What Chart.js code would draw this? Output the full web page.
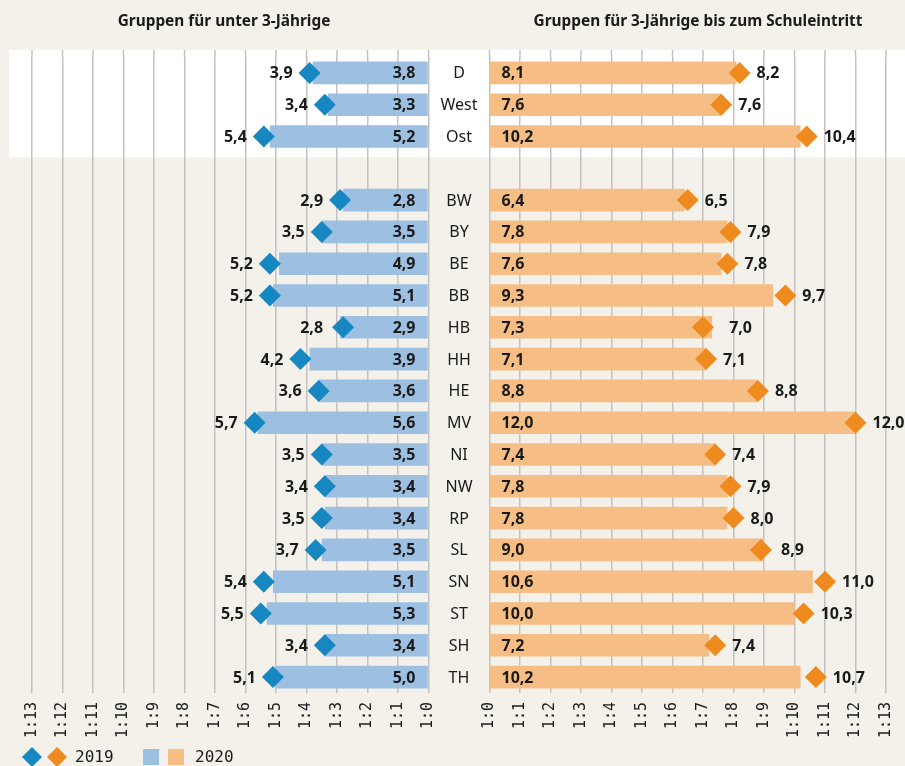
<!DOCTYPE html>
<html lang="de">
<head>
<meta charset="utf-8">
<script src="https://cdn.jsdelivr.net/npm/chart.js@4.4.1/dist/chart.umd.min.js"></script>
<style>
  html, body { margin: 0; padding: 0; background: #f3f1ea; }
  #wrap { position: relative; width: 905px; height: 766px; }
</style>
</head>
<body>
<div id="wrap"><canvas id="myChart"></canvas></div>
<script>
// Daten
let laender = ['D', 'West', 'Ost', '', 'BW', 'BY', 'BE', 'BB', 'HB', 'HH', 'HE', 'MV', 'NI', 'NW', 'RP', 'SL', 'SN', 'ST', 'SH', 'TH'];
let unter3_2020 = [3.8, 3.3, 5.2, null, 2.8, 3.5, 4.9, 5.1, 2.9, 3.9, 3.6, 5.6, 3.5, 3.4, 3.4, 3.5, 5.1, 5.3, 3.4, 5.0];
let unter3_2019 = [3.9, 3.4, 5.4, null, 2.9, 3.5, 5.2, 5.2, 2.8, 4.2, 3.6, 5.7, 3.5, 3.4, 3.5, 3.7, 5.4, 5.5, 3.4, 5.1];
let ueber3_2020 = [8.1, 7.6, 10.2, null, 6.4, 7.8, 7.6, 9.3, 7.3, 7.1, 8.8, 12.0, 7.4, 7.8, 7.8, 9.0, 10.6, 10.0, 7.2, 10.2];
let ueber3_2019 = [8.2, 7.6, 10.4, null, 6.5, 7.9, 7.8, 9.7, 7.0, 7.1, 8.8, 12.0, 7.4, 7.9, 8.0, 8.9, 11.0, 10.3, 7.4, 10.7];
let titel = ['Gruppen für unter 3-Jährige', 'Gruppen für 3-Jährige bis zum Schuleintritt'];
let jahre = ['2019', '2020'];

// Achse: links 1:13 ... 1:0, Luecke fuer die Laendernamen, rechts 1:0 ... 1:13
let maxSchluessel = 13;
let luecke = 2;

const blauBalken = '#9dbfe1';
const orangeBalken = '#f6be84';
const blauRaute = '#1787c1';
const orangeRaute = '#ef8a1f';
const textFarbe = '#1a1a1a';

const fmt = v => v.toFixed(1).replace('.', ',');

// Texte, Band und Legende
const zeichnen = {
  id: 'zeichnen',
  beforeDraw(chart) {
    const { ctx, chartArea, scales: { x, y } } = chart;
    ctx.save();
    ctx.fillStyle = '#f3f1ea';
    ctx.fillRect(0, 0, chart.width, chart.height);
    const oben = chartArea.top - 7;
    const unten = (y.getPixelForValue(2) + y.getPixelForValue(3)) / 2 + 5;
    ctx.fillStyle = '#ffffff';
    ctx.fillRect(9, oben, chart.width - 9, unten - oben);
    // Gitterlinien etwas nach oben verlaengern
    ctx.strokeStyle = '#c2c2c2';
    ctx.lineWidth = 1.5;
    x.ticks.forEach(t => {
      if (t.value === luecke / 2) return;
      const px = x.getPixelForValue(t.value);
      ctx.beginPath();
      ctx.moveTo(px, oben);
      ctx.lineTo(px, chartArea.top);
      ctx.stroke();
    });
    // Ueberschriften
    ctx.fillStyle = textFarbe;
    ctx.font = 'bold 15.4px "Noto Sans"';
    ctx.textAlign = 'center';
    ctx.textBaseline = 'middle';
    ctx.fillText(titel[0], 224, 22);
    ctx.fillText(titel[1], 698, 22);
    ctx.restore();
  },
  afterDatasetsDraw(chart) {
    const { ctx, scales: { x, y } } = chart;
    ctx.save();
    ctx.fillStyle = textFarbe;
    ctx.textBaseline = 'middle';
    laender.forEach((land, i) => {
      if (unter3_2020[i] == null) return;
      const py = y.getPixelForValue(i) + 1;
      ctx.font = '16px "Noto Sans"';
      ctx.textAlign = 'center';
      ctx.fillText(land, x.getPixelForValue(luecke / 2), py);

      ctx.font = 'bold 16px "Noto Sans"';
      // links
      ctx.textAlign = 'right';
      ctx.fillText(fmt(unter3_2020[i]), x.getPixelForValue(0) - 13, py);
      const links = Math.min(x.getPixelForValue(-unter3_2020[i]), x.getPixelForValue(-unter3_2019[i]));
      ctx.fillText(fmt(unter3_2019[i]), links - 17, py);
      // rechts
      ctx.textAlign = 'left';
      ctx.fillText(fmt(ueber3_2020[i]), x.getPixelForValue(luecke) + 12, py);
      const rechts = Math.max(x.getPixelForValue(luecke + ueber3_2020[i]), x.getPixelForValue(luecke + ueber3_2019[i]));
      ctx.fillText(fmt(ueber3_2019[i]), rechts + 17, py);
    });
    ctx.restore();
  },
  afterDraw(chart) {
    const { ctx } = chart;
    ctx.save();
    const ly = 757;
    const raute = (cx, farbe) => {
      ctx.fillStyle = farbe;
      ctx.beginPath();
      ctx.moveTo(cx - 10, ly);
      ctx.lineTo(cx, ly - 10);
      ctx.lineTo(cx + 10, ly);
      ctx.lineTo(cx, ly + 10);
      ctx.closePath();
      ctx.fill();
    };
    raute(32, blauRaute);
    raute(57, orangeRaute);
    ctx.fillStyle = blauBalken;
    ctx.fillRect(143, 749, 16, 16);
    ctx.fillStyle = orangeBalken;
    ctx.fillRect(168, 749, 16, 16);
    ctx.fillStyle = textFarbe;
    ctx.font = '16px "DejaVu Sans Mono"';
    ctx.textAlign = 'left';
    ctx.textBaseline = 'middle';
    ctx.fillText(jahre[0], 75, ly + 1);
    ctx.fillText(jahre[1], 195, ly + 1);
    ctx.restore();
  }
};

const ctx = document.getElementById('myChart').getContext('2d');
const myChart = new Chart(ctx, {
  type: 'bar',
  data: {
    labels: laender,
    datasets: [
      {
        type: 'line',
        label: jahre[0],
        data: unter3_2019.map(v => v == null ? null : -v),
        showLine: false,
        pointStyle: 'rectRot',
        pointRadius: 11,
        pointHoverRadius: 11,
        pointBackgroundColor: blauRaute,
        pointBorderWidth: 0,
        order: 0
      },
      {
        type: 'line',
        label: jahre[0],
        data: ueber3_2019.map(v => v == null ? null : luecke + v),
        showLine: false,
        pointStyle: 'rectRot',
        pointRadius: 11,
        pointHoverRadius: 11,
        pointBackgroundColor: orangeRaute,
        pointBorderWidth: 0,
        order: 0
      },
      {
        label: jahre[1],
        data: unter3_2020.map(v => v == null ? null : [-v, 0]),
        backgroundColor: blauBalken,
        grouped: false,
        barPercentage: 0.71,
        categoryPercentage: 1,
        order: 1
      },
      {
        label: jahre[1],
        data: ueber3_2020.map(v => v == null ? null : [luecke, luecke + v]),
        backgroundColor: orangeBalken,
        grouped: false,
        barPercentage: 0.71,
        categoryPercentage: 1,
        order: 1
      }
    ]
  },
  options: {
    indexAxis: 'y',
    responsive: true,
    maintainAspectRatio: false,
    animation: false,
    layout: { padding: { top: 57, left: 32, right: 19, bottom: 0 } },
    plugins: {
      legend: { display: false },
      tooltip: { enabled: false }
    },
    scales: {
      x: {
        type: 'linear',
        min: -maxSchluessel,
        max: maxSchluessel + luecke,
        afterFit: scale => {
          scale.height = 73;
          scale.paddingLeft = 0;
          scale.paddingRight = 0;
        },
        border: { display: false },
        grid: {
          drawTicks: false,
          lineWidth: 1.5,
          color: c => c.tick && c.tick.value === luecke / 2 ? 'rgba(0,0,0,0)' : '#c2c2c2'
        },
        ticks: {
          stepSize: 1,
          autoSkip: false,
          minRotation: 90,
          maxRotation: 90,
          padding: 9,
          color: textFarbe,
          font: { family: 'DejaVu Sans Mono', size: 15 },
          callback: v => {
            if (v <= 0) return '1:' + (-v);
            if (v >= luecke) return '1:' + (v - luecke);
            return '';
          }
        }
      },
      y: {
        display: false,
        grid: { display: false }
      }
    }
  },
  plugins: [zeichnen]
});
</script>
</body>
</html>
